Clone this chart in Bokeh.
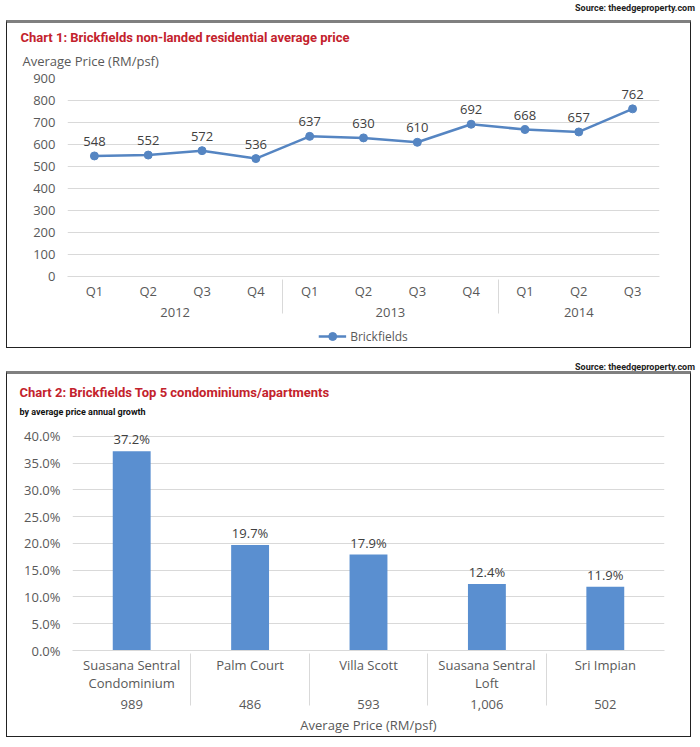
from bokeh.plotting import figure
from bokeh.models import (FactorRange, Range1d, FixedTicker, Legend, LegendItem,
                          PrintfTickFormatter, ColumnDataSource, Title, Div)
from bokeh.layouts import column
from bokeh.embed import file_html
from bokeh.resources import INLINE
from bokeh.core.properties import value

# ---------------- data ----------------
years = ["2012", "2012", "2012", "2012", "2013", "2013", "2013", "2013", "2014", "2014", "2014"]
quarters = ["Q1", "Q2", "Q3", "Q4", "Q1", "Q2", "Q3", "Q4", "Q1", "Q2", "Q3"]
avg_psf = [548, 552, 572, 536, 637, 630, 610, 692, 668, 657, 762]
y1_ticks = [0, 100, 200, 300, 400, 500, 600, 700, 800, 900]

projects = ["Suasana Sentral\nCondominium", "Palm Court", "Villa Scott",
            "Suasana Sentral\nLoft", "Sri Impian"]
growth = [37.2, 19.7, 17.9, 12.4, 11.9]
project_psf = ["989", "486", "593", "1,006", "502"]
y2_ticks = [0, 5, 10, 15, 20, 25, 30, 35, 40]

TICK_FONT = "Open Sans"
TITLE_FONT = "Roboto"
GRAY = "#595959"
GRID = "#d9d9d9"
RED = "#c3222c"
LINE_BLUE = "#5585c2"
BAR_BLUE = "#5a8fd0"
W = 683
BOX_STYLE = {"border": "1.5px solid #222222", "border-top": "3px solid #808080",
             "box-sizing": "content-box", "margin-left": "6px"}
BOX2_STYLE = dict(BOX_STYLE, **{"margin-top": "-9px"})


def style_common(p):
    p.background_fill_color = "white"
    p.border_fill_color = "white"
    p.outline_line_color = None
    p.xgrid.grid_line_color = None
    p.ygrid.grid_line_color = GRID
    p.yaxis.axis_line_color = None
    p.yaxis.major_tick_line_color = None
    p.yaxis.minor_tick_line_color = None
    p.yaxis.major_tick_out = 0
    p.yaxis.minor_tick_out = 0
    p.yaxis.major_label_text_font = TICK_FONT
    p.yaxis.major_label_text_font_size = "13px"
    p.yaxis.major_label_text_color = GRAY
    p.yaxis.major_label_standoff = 12
    p.xaxis.axis_line_color = GRID
    p.xaxis.major_tick_line_color = None
    p.xaxis.minor_tick_line_color = None
    p.xaxis.major_tick_out = 0
    p.xaxis.minor_tick_out = 0
    p.xaxis.major_label_text_font = TICK_FONT
    p.xaxis.major_label_text_font_size = "13px"
    p.xaxis.major_label_text_color = GRAY
    p.xaxis.group_text_font = TICK_FONT
    p.xaxis.group_text_font_size = "13px"
    p.xaxis.group_text_font_style = "normal"
    p.xaxis.group_text_color = GRAY
    p.xaxis.separator_line_color = GRID
    p.xaxis.separator_line_width = 1


def source_div(h, shift):
    return Div(text="Source: theedgeproperty.com", width=690, height=h,
               styles={"font-family": TITLE_FONT, "font-weight": "bold", "font-size": "9px",
                       "color": "#222222", "text-align": "right", "width": "690px",
                       "line-height": "6px", "position": "relative", "top": shift})


# ---------------- chart 1 ----------------
factors1 = list(zip(years, quarters))
src1 = ColumnDataSource(dict(x=factors1, y=avg_psf, lbl=[str(v) for v in avg_psf]))
p1 = figure(width=W, height=302, output_backend="svg", toolbar_location=None,
            x_range=FactorRange(*factors1, factor_padding=0, group_padding=0, range_padding=0),
            y_range=Range1d(0, 900),
            min_border_left=60, min_border_right=31, min_border_top=55, min_border_bottom=49)
style_common(p1)
p1.yaxis.ticker = FixedTicker(ticks=y1_ticks)
p1.line("x", "y", source=src1, line_color=LINE_BLUE, line_width=2.5)
p1.scatter("x", "y", source=src1, size=8, fill_color=LINE_BLUE, line_color=LINE_BLUE)
p1.text("x", "y", text="lbl", source=src1, y_offset=-10, text_align="center",
        text_baseline="bottom", text_font=value(TICK_FONT), text_font_size="13px",
        text_color="#404040")
p1.add_layout(Title(text="Average Price (RM/psf)", align="left", offset=-45, standoff=17,
                    text_font=TICK_FONT, text_font_size="13px", text_font_style="normal",
                    text_color=GRAY), "above")
p1.add_layout(Title(text="Chart 1: Brickfields non-landed residential average price",
                    align="left", offset=-47, standoff=-7, text_font=TITLE_FONT,
                    text_font_size="13px", text_font_style="bold", text_color=RED), "above")

# legend strip (inside the same bordered box)
leg_fig = figure(width=W, height=22, output_backend="svg", toolbar_location=None,
                 x_range=p1.x_range, y_range=Range1d(-2, -1),
                 min_border=0, outline_line_color=None)
leg_fig.axis.visible = False
leg_fig.grid.visible = False
l_ln = leg_fig.line("x", "y", source=src1, line_color=LINE_BLUE, line_width=2.5)
l_mk = leg_fig.scatter("x", "y", source=src1, size=8, fill_color=LINE_BLUE, line_color=LINE_BLUE)
leg = Legend(items=[LegendItem(label="Brickfields", renderers=[l_ln, l_mk])],
             orientation="horizontal", location="center", border_line_color=None,
             background_fill_alpha=0, label_text_font=TICK_FONT, label_text_font_size="12px",
             label_text_color=GRAY, glyph_width=28, padding=0, margin=0, label_standoff=4)
leg_fig.add_layout(leg)

# ---------------- chart 2 ----------------
factors2 = list(zip(project_psf, projects))
src2 = ColumnDataSource(dict(x=factors2, y=growth, lbl=["%.1f%%" % v for v in growth]))
p2 = figure(width=W, height=362, output_backend="svg", toolbar_location=None,
            x_range=FactorRange(*factors2, factor_padding=0, group_padding=0, range_padding=0),
            y_range=Range1d(0, 42.75),
            min_border_left=65, min_border_right=26, min_border_top=47, min_border_bottom=82)
style_common(p2)
p2.yaxis.ticker = FixedTicker(ticks=y2_ticks)
p2.yaxis.formatter = PrintfTickFormatter(format="%.1f%%")
p2.xaxis.major_label_text_line_height = 1.0
p2.vbar(x="x", top="y", source=src2, width=0.32, fill_color=BAR_BLUE, line_color=None)
p2.text("x", "y", text="lbl", source=src2, y_offset=-3, text_align="center",
        text_baseline="bottom", text_font=value(TICK_FONT), text_font_size="13px",
        text_color="#404040")
p2.xaxis.axis_label = "Average Price (RM/psf)"
p2.xaxis.axis_label_text_font = TICK_FONT
p2.xaxis.axis_label_text_font_size = "13px"
p2.xaxis.axis_label_text_font_style = "normal"
p2.xaxis.axis_label_text_color = GRAY
p2.xaxis.axis_label_standoff = 4
p2.add_layout(Title(text="by average price annual growth", align="left", offset=-53, standoff=10,
                    text_font=TITLE_FONT, text_font_size="9px", text_font_style="bold",
                    text_color="#111111"), "above")
p2.add_layout(Title(text="Chart 2: Brickfields Top 5 condominiums/apartments",
                    align="left", offset=-53, standoff=-1.5, text_font=TITLE_FONT,
                    text_font_size="13px", text_font_style="bold", text_color=RED), "above")

box1 = column(p1, leg_fig, spacing=0, styles=BOX_STYLE)
box2 = column(p2, spacing=0, styles=BOX2_STYLE)
layout = column(source_div(10, "0px"), box1, source_div(22, "11px"), box2, spacing=0)
open("out.html", "w").write(file_html(layout, INLINE))
